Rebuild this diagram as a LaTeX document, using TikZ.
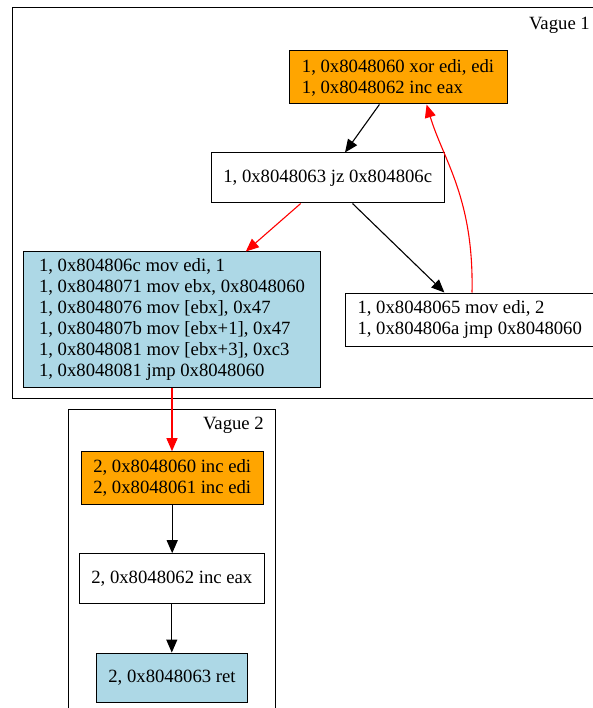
\documentclass[tikz,border=0pt]{standalone}
\usepackage{fontspec}
\setmainfont{Liberation Serif}
\usetikzlibrary{arrows.meta,calc}
\definecolor{gvorange}{HTML}{FFA500}
\definecolor{gvblue}{HTML}{ADD8E6}
\begin{document}
\begin{tikzpicture}[x=1pt,y=-1pt,
  every node/.style={font=\fontsize{18.7}{21}\selectfont},
  box/.style={draw=black, line width=1pt, rectangle, inner sep=0pt},
  lbox/.style={box, align=left, inner xsep=12pt, anchor=west},
  cbox/.style={box, align=center},
  mbox/.style={box, align=left},
  cluster/.style={draw=black, line width=1pt},
  edge/.style={line width=1.1pt, -{Triangle[length=13pt,width=11pt]}},
  redge/.style={edge, draw=red, -{Triangle[length=13pt,width=11pt,fill=red]}, red}
]
\clip (0,0) rectangle (593,708);
\fill[white] (0,0) rectangle (593,708);
% clusters
\draw[cluster] (12,8) rectangle (640,398);
\node[anchor=base east, inner sep=0pt] (v1) at (590,30) {Vague 1};
\draw[cluster] (68.7,409.3) rectangle (275.3,740);
\node[anchor=base east, inner sep=0pt] (v2) at (264,429) {Vague 2};
% nodes
\node[mbox, fill=gvorange, minimum width=218pt, minimum height=53pt] (o1) at (398,77.5)
  {1, 0x8048060 xor edi, edi\\1, 0x8048062 inc eax};
\node[cbox, fill=white, minimum width=233.4pt, minimum height=50pt] (jz) at (327.7,178)
  {1, 0x8048063 jz 0x804806c};
\node[mbox, fill=gvblue, minimum width=296.5pt, minimum height=135pt] (bl) at (172,319.5)
  {1, 0x804806c mov edi, 1\\
   1, 0x8048071 mov ebx, 0x8048060\\
   1, 0x8048076 mov [ebx], 0x47\\
   1, 0x804807b mov [ebx+1], 0x47\\
   1, 0x8048081 mov [ebx+3], 0xc3\\
   1, 0x8048081 jmp 0x8048060};
\node[lbox, fill=white, minimum height=53pt] (mv) at (345,319.5)
  {1, 0x8048065 mov edi, 2\\1, 0x804806a jmp 0x8048060};
\node[cbox, fill=gvorange, minimum width=182.3pt, minimum height=52.6pt] (o2) at (172.2,478)
  {2, 0x8048060 inc edi\\2, 0x8048061 inc edi};
\node[cbox, fill=white, minimum width=185pt, minimum height=49.6pt] (ea) at (171.8,578.5)
  {2, 0x8048062 inc eax};
\node[cbox, fill=gvblue, minimum width=151.4pt, minimum height=49.7pt] (rt) at (172,677.9)
  {2, 0x8048063 ret};
% edges
\draw[edge] ($(o1.south)+(-18.6,0)$) -- ($(jz.north)+(17.3,0)$);
\draw[redge] ($(jz.south)+(-27,0)$) -- ($(bl.north)+(73.8,0)$);
\draw[edge] ($(jz.south)+(24.8,0)$) -- ($(mv.north west)+(99.4,0)$);
\draw[redge] ($(mv.north west)+(127,0)$) .. controls ($(mv.north west)+(129,-95)$) and ($(o1.south)+(45,55)$) .. ($(o1.south)+(28.6,0)$);
\draw[redge] (bl.south) -- (bl.south |- o2.north);
\draw[edge] (o2.south) -- (o2.south |- ea.north);
\draw[edge] (ea.south) -- (ea.south |- rt.north);
\end{tikzpicture}
\end{document}
